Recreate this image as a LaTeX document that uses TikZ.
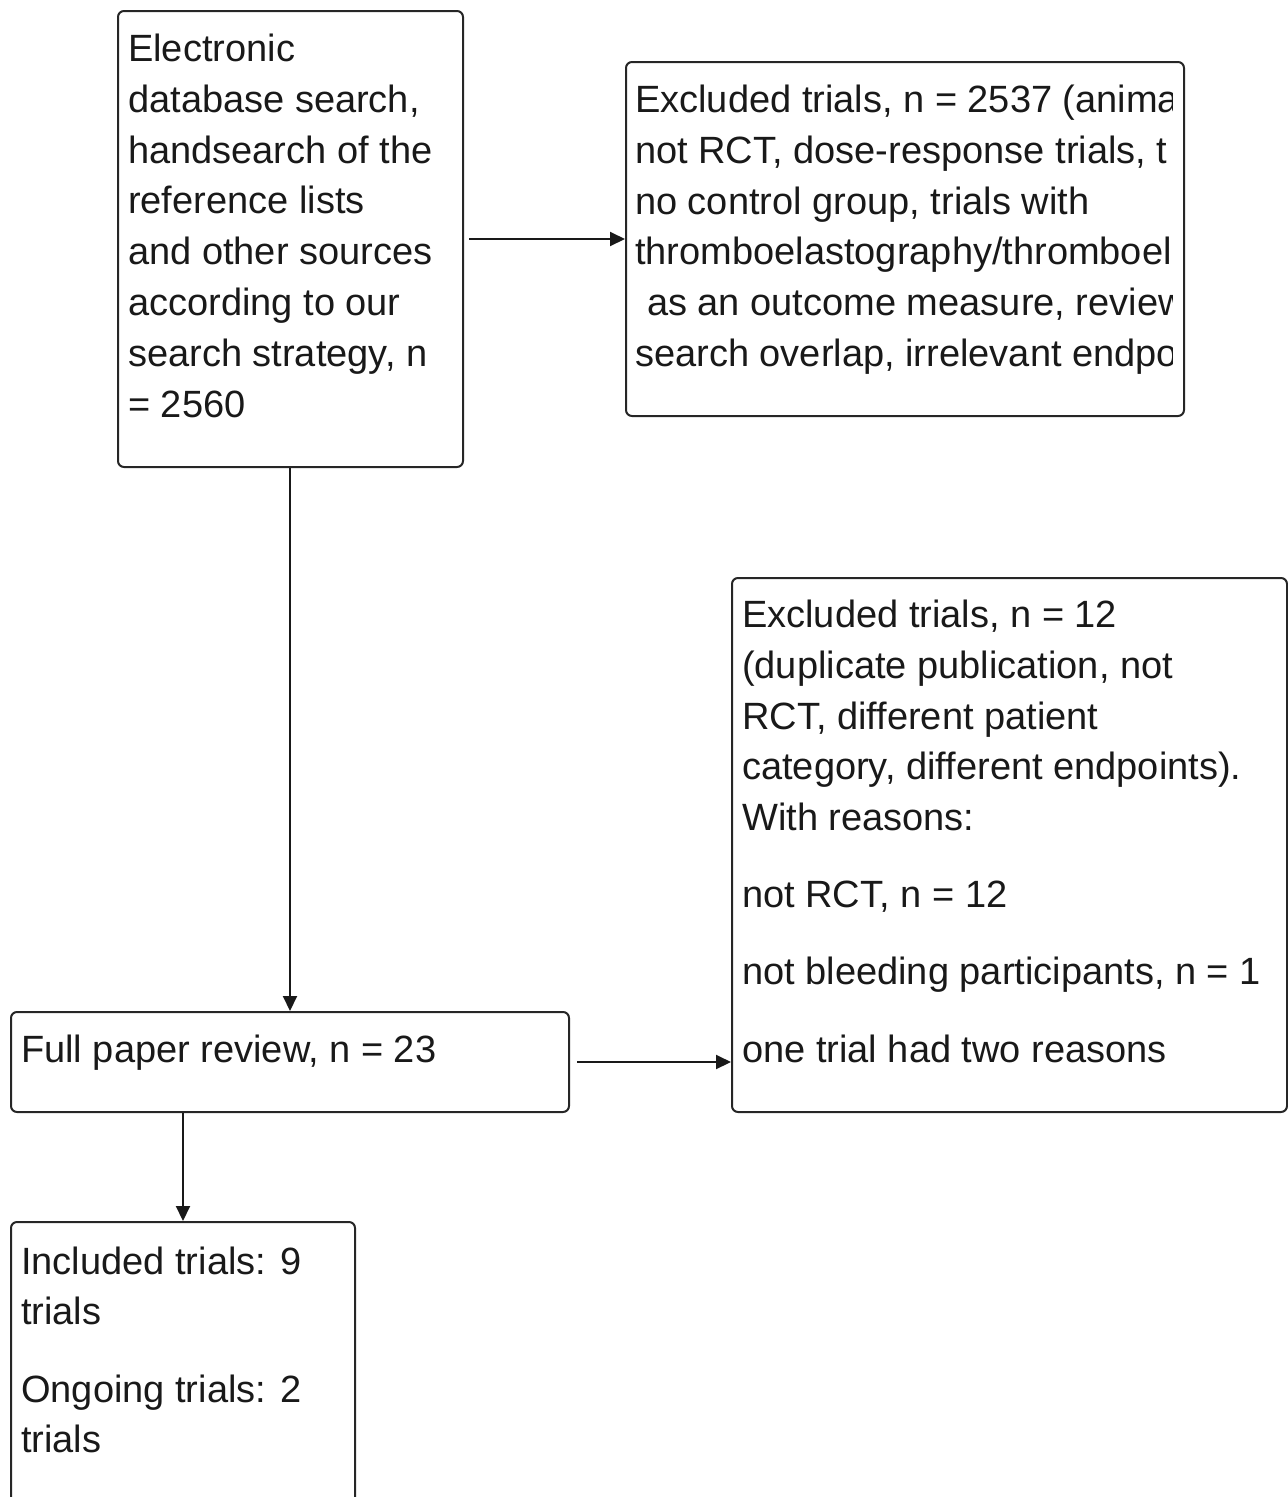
\documentclass[tikz,border=0pt]{standalone}
\usepackage{fontspec}
\setmainfont{Liberation Sans}
\usetikzlibrary{arrows.meta}
\begin{document}
\begin{tikzpicture}[x=1pt,y=-1pt,
  box/.style={draw=black!85,line width=2pt,rounded corners=6pt},
  txt/.style={anchor=base west,inner sep=0pt,font=\fontsize{38}{51}\selectfont,text=black!90},
  arr/.style={draw=black!90,line width=2pt,-{Triangle[length=15pt,width=14pt]}}]
\useasboundingbox (0,0) rectangle (1288,1497);
\clip (0,0) rectangle (1288,1497);
% boxes
\node[box,minimum width=345pt,minimum height=456pt,anchor=north west] (b1) at (117,10) {};
\node[box,minimum width=558pt,minimum height=354pt,anchor=north west] (b2) at (625,61) {};
\node[box,minimum width=555pt,minimum height=534pt,anchor=north west] (b3) at (731,577) {};
\node[box,minimum width=558pt,minimum height=100pt,anchor=north west] (b4) at (10,1011) {};
\node[box,minimum width=344pt,minimum height=300pt,anchor=north west] (b5) at (10,1221) {};
% box 1 text
\node[txt] (t11) at (128,61) {Electronic};
\node[txt] (t12) at (128,112) {database search,};
\node[txt] (t13) at (128,163) {handsearch of the};
\node[txt] (t14) at (128,213) {reference lists};
\node[txt] (t15) at (128,264) {and other sources};
\node[txt] (t16) at (128,315) {according to our};
\node[txt] (t17) at (128,366) {search strategy, n};
\node[txt] (t18) at (128,417) {= 2560};
% box 2 text (clipped at the box's inner edge, as printed)
\begin{scope}
\clip (627,63) rectangle (1172,413);
\node[txt] (t21) at (635,112) {Excluded trials, n = 2537 (anima};
\node[txt] (t22) at (635,163) {not RCT, dose-response trials, t};
\node[txt] (t23) at (635,214) {no control group, trials with};
\node[txt] (t24) at (635,264) {thromboelastography/thromboel};
\node[txt] (t25) at (647,315) {as an outcome measure, review};
\node[txt] (t26) at (635,366) {search overlap, irrelevant endpo};
\end{scope}
% box 3 text
\node[txt] (t31) at (742,627) {Excluded trials, n = 12};
\node[txt] (t32) at (742,678) {(duplicate publication, not};
\node[txt] (t33) at (742,729) {RCT, different patient};
\node[txt] (t34) at (742,779) {category, different endpoints).};
\node[txt] (t35) at (742,830) {With reasons:};
\node[txt] (t36) at (742,907) {not RCT, n = 12};
\node[txt] (t37) at (742,984) {not bleeding participants, n = 1};
\node[txt] (t38) at (742,1062) {one trial had two reasons};
% box 4 text
\node[txt] (t41) at (21,1062) {Full paper review, n = 23};
% box 5 text
\node[txt] (t51) at (21,1274) {Included trials: 9};
\node[txt] (t52) at (21,1324) {trials};
\node[txt] (t53) at (21,1402) {Ongoing trials: 2};
\node[txt] (t54) at (21,1452) {trials};
% connectors
\draw[arr] ([xshift=5pt]b1.east |- 0,239) -- (b2.west |- 0,239);
\draw[arr] (b1.south -| 290,0) -- (b4.north -| 290,0);
\draw[arr] ([xshift=7pt]b4.east |- 0,1062) -- (b3.west |- 0,1062);
\draw[arr] (b4.south -| 183,0) -- (b5.north -| 183,0);
\end{tikzpicture}
\end{document}
